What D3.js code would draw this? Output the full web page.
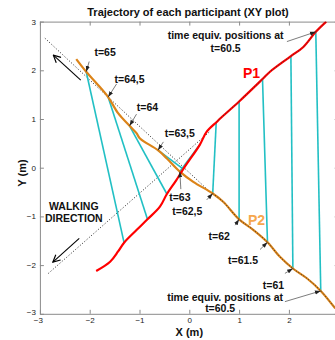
<!DOCTYPE html>
<html>
<head>
<meta charset="utf-8">
<script src="https://cdn.jsdelivr.net/npm/d3@7"></script>
<style>
  body { margin: 0; background: #fff; }
  svg { display: block; font-family: Arial, "Liberation Sans", sans-serif; }
</style>
</head>
<body>
<div id="container"></div>
<script>
// trajectory data (metres)
var times = [65, 64.5, 64, 63.5, 63, 62.5, 62, 61.5, 61, 60.5];
var timeLabels = ["t=65", "t=64,5", "t=64", "t=63,5", "t=63", "t=62,5", "t=62", "t=61.5", "t=61", ""];

var p1Path = [[-1.87,-2.12],[-1.59,-1.93],[-1.43,-1.72],[-1.31,-1.54],[-1.06,-1.28],[-0.84,-1.06],
  [-0.59,-0.80],[-0.45,-0.54],[-0.27,-0.27],[-0.09,0.02],[0.21,0.47],[0.35,0.74],[0.55,0.94],
  [0.62,1.01],[1.0,1.36],[1.47,1.82],[1.62,1.97],[2.04,2.29],[2.29,2.48],[2.54,2.79],[2.75,3.0]];
var p2Path = [[-2.27,2.23],[-2.07,1.97],[-1.86,1.73],[-1.63,1.45],[-1.43,1.12],[-1.20,0.86],
  [-1.06,0.71],[-0.99,0.60],[-0.63,0.36],[-0.45,0.19],[-0.19,-0.08],[0.08,-0.29],[0.47,-0.53],
  [0.68,-0.70],[1.0,-1.06],[1.29,-1.28],[1.57,-1.53],[1.82,-1.83],[2.08,-2.07],[2.36,-2.27],
  [2.64,-2.53],[2.93,-2.89]];

// time-equivalent positions
var p1At = [[-1.31,-1.54],[-0.84,-1.06],[-0.45,-0.54],[-0.12,-0.03],[0.21,0.47],[0.54,0.92],
  [1.0,1.36],[1.47,1.82],[2.04,2.29],[2.54,2.79]];
var p2At = [[-2.07,1.97],[-1.63,1.45],[-1.20,0.86],[-0.63,0.36],[-0.19,-0.08],[0.47,-0.53],
  [1.0,-1.06],[1.57,-1.53],[2.08,-2.07],[2.64,-2.53]];

// label centres and arrow starts for the P2 time marks
var labelPos = [[-1.69,2.36],[-1.20,1.82],[-0.84,1.24],[-0.19,0.71],[-0.19,-0.61],[-0.04,-0.89],
  [0.60,-1.40],[1.08,-1.90],[1.69,-2.41]];
var labelArrowFrom = [[-2.01,2.18],[-1.46,1.72],[-1.06,1.10],[-0.52,0.53],[-0.17,-0.44],[0.35,-0.66],
  [0.92,-1.18],[1.42,-1.68],[1.92,-2.17]];

var dottedA = [[-2.90,2.66],[0.45,-0.53]];
var dottedB = [[-2.83,-2.17],[0.42,0.75]];
var walkArrows = [[[-2.18,1.80],[-2.73,2.31]], [[-2.21,-1.45],[-2.74,-1.94]]];

var xTicks = [-3, -2, -1, 0, 1, 2, 3];
var yTicks = [-3, -2, -1, 0, 1, 2, 3];

var width = 335, height = 340;
var pLeft = 39.9, pRight = 338.7, pTop = 21.6, pBottom = 313.8;

var svg = d3.select("div#container")
  .append("svg")
  .attr("width", width)
  .attr("height", height);

var x = d3.scaleLinear().domain([-3, 3]).range([pLeft, pRight]);
var y = d3.scaleLinear().domain([-3, 3]).range([pBottom, pTop]);

var line = d3.line().x(function(d) { return x(d[0]); }).y(function(d) { return y(d[1]); });
var smooth = d3.line().curve(d3.curveCatmullRom.alpha(0.5))
  .x(function(d) { return x(d[0]); }).y(function(d) { return y(d[1]); });

var defs = svg.append("defs");
defs.append("clipPath").attr("id", "plotclip")
  .append("rect").attr("x", pLeft).attr("y", pTop).attr("width", pRight - pLeft).attr("height", pBottom - pTop);
defs.append("marker").attr("id", "smallhead")
  .attr("viewBox", "0 -3 7 6").attr("refX", 7).attr("refY", 0)
  .attr("markerWidth", 6).attr("markerHeight", 5).attr("markerUnits", "userSpaceOnUse")
  .attr("orient", "auto")
  .append("path").attr("d", "M0,-2.5L7,0L0,2.5Z").style("fill", "#222");
defs.append("marker").attr("id", "openhead")
  .attr("viewBox", "-1 -5 10 10").attr("refX", 8).attr("refY", 0)
  .attr("markerWidth", 9).attr("markerHeight", 9).attr("markerUnits", "userSpaceOnUse")
  .attr("orient", "auto")
  .append("path").attr("d", "M0,-4L8,0L0,4").style("fill", "none").style("stroke", "#000").style("stroke-width", 1.3);

// axes (box with inward ticks)
var axisColor = "#8a8a8a";
var fmt = function(d) { return d >= 3 && d > 2.5 ? "" : d3.format("d")(d); };
var gx = svg.append("g").attr("transform", "translate(0," + pBottom + ")")
  .call(d3.axisBottom(x).tickValues(xTicks).tickFormat(fmt).tickSize(-4).tickPadding(4).tickSizeOuter(0));
var gxt = svg.append("g").attr("transform", "translate(0," + pTop + ")")
  .call(d3.axisTop(x).tickValues(xTicks).tickSize(-4).tickFormat("").tickSizeOuter(0));
var gy = svg.append("g").attr("transform", "translate(" + pLeft + ",0)")
  .call(d3.axisLeft(y).tickValues(yTicks).tickFormat(d3.format("d")).tickSize(-4).tickPadding(4).tickSizeOuter(0));
var gyr = svg.append("g").attr("transform", "translate(" + pRight + ",0)")
  .call(d3.axisRight(y).tickValues(yTicks).tickSize(-4).tickFormat("").tickSizeOuter(0));
[gx, gxt, gy, gyr].forEach(function(g) {
  g.selectAll("path, line").style("stroke", axisColor);
  g.selectAll("text").style("font-size", "8px").style("fill", "#222");
});
// corner labels sit a little off like the original
gx.selectAll(".tick text").filter(function(d) { return d === -3; }).attr("dx", "-2");
gy.selectAll(".tick text").filter(function(d) { return d === -3; }).attr("dy", "0.1em");

var plot = svg.append("g").attr("clip-path", "url(#plotclip)");

// dotted walking-direction guides
[dottedA, dottedB].forEach(function(d) {
  plot.append("path").attr("d", line(d))
    .style("fill", "none").style("stroke", "#222").style("stroke-width", 1).style("stroke-dasharray", "1,2");
});

// cyan connecting lines
plot.selectAll(".link").data(times).enter().append("line")
  .attr("class", "link")
  .attr("x1", function(d, i) { return x(p2At[i][0]); })
  .attr("y1", function(d, i) { return y(p2At[i][1]); })
  .attr("x2", function(d, i) { return x(p1At[i][0]); })
  .attr("y2", function(d, i) { return y(p1At[i][1]); })
  .style("stroke", "#22c0c4").style("stroke-width", 1.6);

// trajectories
plot.append("path").attr("d", smooth(p2Path))
  .style("fill", "none").style("stroke", "#dc8419").style("stroke-width", 2.2);
plot.append("path").attr("d", smooth(p1Path))
  .style("fill", "none").style("stroke", "#ff0000").style("stroke-width", 2.2);

// dotted overlay continuing along the trajectories
plot.append("path").attr("d", smooth(p2Path.filter(function(d) { return d[0] >= 0.45; })))
  .style("fill", "none").style("stroke", "#333").style("stroke-width", 1).style("stroke-dasharray", "1,2");
plot.append("path").attr("d", smooth(p1Path.filter(function(d) { return d[0] >= 0.42; })))
  .style("fill", "none").style("stroke", "#333").style("stroke-width", 1).style("stroke-dasharray", "1,2");

// walking direction arrows
walkArrows.forEach(function(a) {
  svg.append("line")
    .attr("x1", x(a[0][0])).attr("y1", y(a[0][1]))
    .attr("x2", x(a[1][0])).attr("y2", y(a[1][1]))
    .style("stroke", "#000").style("stroke-width", 1.1)
    .attr("marker-end", "url(#openhead)");
});

// time labels with arrows
var bold = function(sel, size) {
  return sel.style("font-size", size + "px").style("font-weight", "bold").style("fill", "#111")
    .attr("text-anchor", "middle").attr("dy", "0.35em");
};
labelPos.forEach(function(p, i) {
  svg.append("line")
    .attr("x1", x(labelArrowFrom[i][0])).attr("y1", y(labelArrowFrom[i][1]))
    .attr("x2", x(p2At[i][0])).attr("y2", y(p2At[i][1]))
    .style("stroke", "#444").style("stroke-width", 0.7)
    .attr("marker-end", "url(#smallhead)");
  bold(svg.append("text").attr("x", x(p[0])).attr("y", y(p[1])), 10.5).text(timeLabels[i]);
});

// t=60.5 callouts
var last = times.length - 1;
svg.append("line").attr("x1", x(1.92)).attr("y1", y(-2.75))
  .attr("x2", x(p2At[last][0])).attr("y2", y(p2At[last][1]))
  .style("stroke", "#444").style("stroke-width", 0.7).attr("marker-end", "url(#smallhead)");
svg.append("line").attr("x1", x(1.96)).attr("y1", y(2.59))
  .attr("x2", x(p1At[last][0])).attr("y2", y(p1At[last][1]))
  .style("stroke", "#444").style("stroke-width", 0.7).attr("marker-end", "url(#smallhead)");
bold(svg.append("text").attr("x", x(0.72)).attr("y", y(-2.66)), 10.5).text("time equiv. positions at");
bold(svg.append("text").attr("x", x(0.62)).attr("y", y(-2.89)), 10.5).text("t=60.5");
bold(svg.append("text").attr("x", x(0.73)).attr("y", y(2.72)), 10.5).text("time equiv. positions at");
bold(svg.append("text").attr("x", x(0.73)).attr("y", y(2.45)), 10.5).text("t=60.5");

bold(svg.append("text").attr("x", x(-2.32)).attr("y", y(-0.80)), 10.5).text("WALKING");
bold(svg.append("text").attr("x", x(-2.32)).attr("y", y(-1.04)), 10.5).text("DIRECTION");

bold(svg.append("text").attr("x", x(1.25)).attr("y", y(1.94)), 14).style("fill", "#ff0000").text("P1");
bold(svg.append("text").attr("x", x(1.35)).attr("y", y(-1.07)), 14).style("fill", "#f6a74e").text("P2");

// titles
bold(svg.append("text").attr("x", 188).attr("y", 12), 11).text("Trajectory of each participant (XY plot)");
bold(svg.append("text").attr("x", x(0)).attr("y", 332), 11).text("X (m)");
bold(svg.append("text").attr("transform", "translate(22,173) rotate(-90)"), 11).text("Y (m)");
</script>
</body>
</html>
